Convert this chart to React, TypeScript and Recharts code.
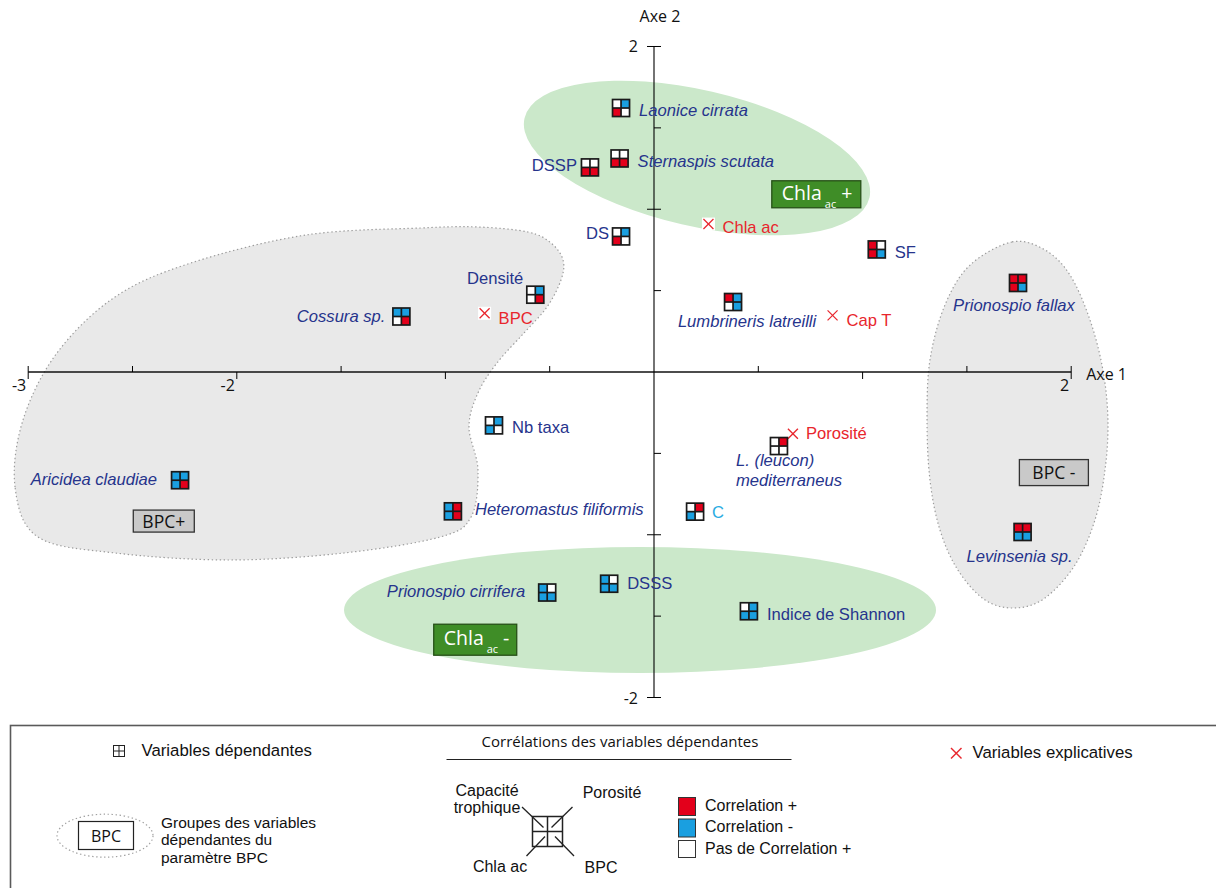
import React from 'react';
import { ScatterChart, Scatter, XAxis, YAxis } from 'recharts';

// ---------- DATA ----------
const depNames = [
  'Laonice cirrata', 'Sternaspis scutata', 'DSSP', 'DS', 'Densité', 'Cossura sp.', 'SF',
  'Prionospio fallax', 'Lumbrineris latreilli', 'Nb taxa', 'L. (leucon) mediterraneus', 'C',
  'Aricidea claudiae', 'Heteromastus filiformis', 'Prionospio cirrifera', 'DSSS',
  'Indice de Shannon', 'Levinsenia sp.',
];
const depAxe1 = [-0.158, -0.165, -0.307, -0.158, -0.569, -1.211, 1.068, 1.745, 0.379, -0.767, 0.599, 0.197, -2.272, -0.964, -0.512, -0.215, 0.455, 1.767];
const depAxe2 = [1.622, 1.312, 1.257, 0.833, 0.475, 0.341, 0.753, 0.547, 0.43, -0.328, -0.455, -0.858, -0.665, -0.856, -1.355, -1.301, -1.47, -0.983];
// correlation with each explanatory variable: '+', '-', '0'
const corrCapT = ['0', '0', '0', '0', '0', '-', '+', '+', '+', '0', '0', '0', '-', '-', '-', '-', '0', '+'];
const corrPoro = ['-', '0', '0', '-', '-', '-', '0', '+', '-', '-', '+', '+', '-', '+', '0', '0', '-', '+'];
const corrChla = ['+', '+', '+', '+', '0', '0', '+', '+', '0', '-', '0', '-', '-', '-', '-', '-', '-', '-'];
const corrBPC = ['0', '+', '+', '0', '+', '+', '-', '-', '-', '0', '0', '0', '+', '+', '-', '-', '-', '-'];
const depIsTaxon = [true, true, false, false, false, true, false, true, true, false, true, false, true, true, true, false, false, true];

const expNames = ['Chla ac', 'BPC', 'Cap T', 'Porosité'];
const expAxe1 = [0.261, -0.812, 0.856, 0.666];
const expAxe2 = [0.909, 0.361, 0.348, -0.379];

const xTickValues = [-3, -2.5, -2, -1.5, -1, -0.5, 0.5, 1, 1.5, 2];
const yTickValues = [2, 1.5, 1, 0.5, -0.5, -1, -1.5, -2];
const xTickLabels: Record<string, string> = { '-3': '-3', '-2': '-2', '2': '2' };
const yTickLabels: Record<string, string> = { '2': '2', '-2': '-2' };

const groupNames = ['Chla+', 'Chla-', 'BPC+', 'BPC-'];
const groupAxe1 = [0.778, -0.857, -2.35, 1.917];
const groupAxe2 = [1.092, -1.645, -0.916, -0.618];

const ellipseNames = ['Chla+', 'Chla-'];
const ellipseAxe1 = [0.206, -0.067];
const ellipseAxe2 = [1.315, -1.462];

const bpcPlusOutline: [number, number][] = [
  [-3.063, -0.707], [-3.025, -0.295], [-2.862, 0.117], [-2.584, 0.461], [-2.22, 0.67], [-1.668, 0.842],
  [-1.117, 0.885], [-0.844, 0.891], [-0.604, 0.86], [-0.494, 0.793], [-0.436, 0.688], [-0.446, 0.565],
  [-0.513, 0.399], [-0.623, 0.24], [-0.753, 0.055], [-0.844, -0.129], [-0.887, -0.338], [-0.844, -0.602],
  [-0.877, -0.891], [-1.026, -1.014], [-1.486, -1.112], [-2.033, -1.155], [-2.584, -1.112], [-2.953, -1.014],
];
const bpcMinusOutline: [number, number][] = [
  [1.716, 0.799], [1.874, 0.75], [1.994, 0.596], [2.09, 0.32], [2.152, 0.012], [2.176, -0.295],
  [2.162, -0.602], [2.114, -0.909], [2.018, -1.186], [1.874, -1.389], [1.731, -1.45], [1.587, -1.401],
  [1.457, -1.217], [1.371, -0.971], [1.323, -0.664], [1.309, -0.295], [1.323, 0.074], [1.395, 0.412],
  [1.515, 0.657],
];

// ---------- derived tables ----------
const depData = depNames.map((name, i) => ({
  name, x: depAxe1[i], y: depAxe2[i], capT: corrCapT[i], poro: corrPoro[i], chla: corrChla[i], bpc: corrBPC[i], taxon: depIsTaxon[i],
}));
const expData = expNames.map((name, i) => ({ name, x: expAxe1[i], y: expAxe2[i] }));
const xTickData = xTickValues.map((v) => ({ x: v, y: 0, label: xTickLabels[String(v)] || '', major: Number.isInteger(v) }));
const yTickData = yTickValues.map((v) => ({ x: 0, y: v, label: yTickLabels[String(v)] || '', major: Number.isInteger(v) }));
const groupData = groupNames.map((name, i) => ({ name, x: groupAxe1[i], y: groupAxe2[i] }));
const ellipseData = ellipseNames.map((name, i) => ({ name, x: ellipseAxe1[i], y: ellipseAxe2[i] }));
const toPts = (arr: [number, number][]) => arr.map(([x, y]) => ({ x, y }));
const hAxisData = [{ x: -3, y: 0 }, { x: 2, y: 0 }];
const vAxisData = [{ x: 0, y: 2 }, { x: 0, y: -2 }];
const axisTitleData = [{ x: 0, y: 2, label: 'Axe 2' }, { x: 2, y: 0, label: 'Axe 1' }];

// ---------- styles ----------
const RED = '#e3001b';
const BLUE = '#1a9fe0';
const NAVY = '#26348c';
const XRED = '#e8262d';
const CORR_COLORS: Record<string, string> = { '+': RED, '-': BLUE, '0': '#ffffff' };
const SANS = 'Liberation Sans, Arial, sans-serif';
const MYRIAD = 'Open Sans, Noto Sans, sans-serif';
const LABEL_SIZE = 16.6;

const depLabelLayout: Record<string, { dx: number; dy: number; anchor: string; lines?: string[] }> = {
  'Laonice cirrata': { dx: 18, dy: 8, anchor: 'start' },
  'Sternaspis scutata': { dx: 18, dy: 9, anchor: 'start' },
  DSSP: { dx: -13, dy: 4, anchor: 'end' },
  DS: { dx: -12, dy: 3, anchor: 'end' },
  'Densité': { dx: -12, dy: -11, anchor: 'end' },
  'Cossura sp.': { dx: -16, dy: 5, anchor: 'end' },
  SF: { dx: 18, dy: 9, anchor: 'start' },
  'Prionospio fallax': { dx: -4, dy: 28, anchor: 'middle' },
  'Lumbrineris latreilli': { dx: 14, dy: 25, anchor: 'middle' },
  'Nb taxa': { dx: 18, dy: 8, anchor: 'start' },
  'L. (leucon) mediterraneus': { dx: -43, dy: 20, anchor: 'start', lines: ['L. (leucon)', 'mediterraneus'] },
  C: { dx: 17, dy: 6, anchor: 'start' },
  'Aricidea claudiae': { dx: -23, dy: 5, anchor: 'end' },
  'Heteromastus filiformis': { dx: 22, dy: 4, anchor: 'start' },
  'Prionospio cirrifera': { dx: -22, dy: 4, anchor: 'end' },
  DSSS: { dx: 18, dy: 5, anchor: 'start' },
  'Indice de Shannon': { dx: 18, dy: 9, anchor: 'start' },
  'Levinsenia sp.': { dx: -3, dy: 30, anchor: 'middle' },
};
const labelColorOverride: Record<string, string> = { C: '#29abe2' };
const expLabelLayout: Record<string, { dx: number; dy: number }> = {
  'Chla ac': { dx: 14, dy: 9 },
  BPC: { dx: 14, dy: 11 },
  'Cap T': { dx: 14, dy: 11 },
  'Porosité': { dx: 13, dy: 5 },
};
const ellipseStyle: Record<string, { rx: number; ry: number; rot: number }> = {
  'Chla+': { rx: 177, ry: 68, rot: 13 },
  'Chla-': { rx: 296, ry: 63, rot: 0 },
};
const groupStyle: Record<string, { w: number; h: number; fill: string; kind: string; sign: string }> = {
  'Chla+': { w: 89, h: 27, fill: '#3f8d27', kind: 'chla', sign: '+' },
  'Chla-': { w: 83, h: 31, fill: '#3f8d27', kind: 'chla', sign: '-' },
  'BPC+': { w: 61, h: 22, fill: '#c9c9c9', kind: 'bpc', sign: '+' },
  'BPC-': { w: 69, h: 26, fill: '#c9c9c9', kind: 'bpc', sign: ' -' },
};

function closedSmoothPath(pts: { x: number; y: number }[]) {
  const n = pts.length;
  if (!n) return '';
  let d = `M${pts[0].x},${pts[0].y}`;
  for (let i = 0; i < n; i++) {
    const p0 = pts[(i - 1 + n) % n], p1 = pts[i], p2 = pts[(i + 1) % n], p3 = pts[(i + 2) % n];
    const c1x = p1.x + (p2.x - p0.x) / 6, c1y = p1.y + (p2.y - p0.y) / 6;
    const c2x = p2.x - (p3.x - p1.x) / 6, c2y = p2.y - (p3.y - p1.y) / 6;
    d += ` C${c1x},${c1y} ${c2x},${c2y} ${p2.x},${p2.y}`;
  }
  return d + ' Z';
}

const Empty = () => <g />;

const blobLine = (props: any) => (
  <path d={closedSmoothPath(props.points || [])} fill="#e9e9e9" stroke="#9c9c9c" strokeWidth={1.2} strokeDasharray="1.4 2.6" />
);

const EllipseShape = (props: any) => {
  const { cx, cy, payload } = props;
  const st = ellipseStyle[payload.name];
  return <ellipse cx={cx} cy={cy} rx={st.rx} ry={st.ry} transform={`rotate(${st.rot} ${cx} ${cy})`} fill="#cbe8ca" />;
};

const GroupBox = (props: any) => {
  const { cx, cy, payload } = props;
  const st = groupStyle[payload.name];
  const x0 = cx - st.w / 2, y0 = cy - st.h / 2;
  if (st.kind === 'chla') {
    return (
      <g>
        <rect x={x0} y={y0} width={st.w} height={st.h} fill={st.fill} stroke="#264f17" strokeWidth={1.3} />
        <text x={x0 + 10} y={cy + 5.5} fill="#fff" fontFamily={MYRIAD} fontSize={19.5}>
          Chla<tspan fontSize={11} dx={3} dy={8}>ac</tspan><tspan dx={5} dy={-8}>{st.sign}</tspan>
        </text>
      </g>
    );
  }
  return (
    <g>
      <rect x={x0} y={y0} width={st.w} height={st.h} fill={st.fill} stroke="#333" strokeWidth={1.3} />
      <text x={cx} y={cy + 6.5} textAnchor="middle" fill="#111" fontFamily={MYRIAD} fontSize={17.5}>{'BPC' + st.sign}</text>
    </g>
  );
};

const XTick = (props: any) => {
  const { cx, cy, payload } = props;
  const end = payload.x === -3 || payload.x === 2;
  const y1 = payload.major || end ? cy + 7 : cy;
  const y0 = payload.major && !end ? cy : cy - 6;
  return (
    <g>
      <line x1={cx} x2={cx} y1={y0} y2={y1} stroke="#000" strokeWidth={1} />
      {payload.label ? (
        <text x={cx - 2} y={cy + 19} textAnchor="end" fontFamily={MYRIAD} fontSize={16} fill="#111">{payload.label}</text>
      ) : null}
    </g>
  );
};

const YTick = (props: any) => {
  const { cx, cy, payload } = props;
  const x0 = payload.major ? cx - 7 : cx;
  return (
    <g>
      <line x1={x0} x2={cx + 7} y1={cy} y2={cy} stroke="#000" strokeWidth={1} />
      {payload.label ? (
        <text x={cx - 16} y={cy + 6} textAnchor="end" fontFamily={MYRIAD} fontSize={16} fill="#111">{payload.label}</text>
      ) : null}
    </g>
  );
};

const AxisTitle = (props: any) => {
  const { cx, cy, payload } = props;
  if (payload.label === 'Axe 2') {
    return <text x={cx + 6} y={cy - 24} textAnchor="middle" fontFamily={MYRIAD} fontSize={16} fill="#111">{payload.label}</text>;
  }
  return <text x={cx + 15} y={cy + 8} textAnchor="start" fontFamily={MYRIAD} fontSize={16} fill="#111">{payload.label}</text>;
};

const DepMarker = (props: any) => {
  const { cx, cy, payload } = props;
  const h = 8.5;
  const cols = [payload.capT, payload.poro, payload.chla, payload.bpc].map((c: string) => CORR_COLORS[c]);
  const lay = depLabelLayout[payload.name];
  const color = labelColorOverride[payload.name] || NAVY;
  const lines = lay.lines || [payload.name];
  return (
    <g>
      <rect x={cx - h} y={cy - h} width={h} height={h} fill={cols[0]} />
      <rect x={cx} y={cy - h} width={h} height={h} fill={cols[1]} />
      <rect x={cx - h} y={cy} width={h} height={h} fill={cols[2]} />
      <rect x={cx} y={cy} width={h} height={h} fill={cols[3]} />
      <rect x={cx - h} y={cy - h} width={2 * h} height={2 * h} fill="none" stroke="#1a1a1a" strokeWidth={1.7} />
      <line x1={cx - h} x2={cx + h} y1={cy} y2={cy} stroke="#1a1a1a" strokeWidth={1.7} />
      <line x1={cx} x2={cx} y1={cy - h} y2={cy + h} stroke="#1a1a1a" strokeWidth={1.7} />
      <text x={cx + lay.dx} y={cy + lay.dy} textAnchor={lay.anchor as any} fill={color} fontFamily={SANS} fontSize={LABEL_SIZE}
        fontStyle={payload.taxon ? 'italic' : 'normal'}>
        {lines.map((t: string, i: number) => (
          <tspan key={i} x={cx + lay.dx} dy={i === 0 ? 0 : 20}>{t}</tspan>
        ))}
      </text>
    </g>
  );
};

const ExpMarker = (props: any) => {
  const { cx, cy, payload } = props;
  const lay = expLabelLayout[payload.name];
  const r = 5;
  return (
    <g>
      <rect x={cx - 6.5} y={cy - 6.5} width={13} height={13} fill="#fff" />
      <line x1={cx - r} y1={cy - r} x2={cx + r} y2={cy + r} stroke={XRED} strokeWidth={1.3} />
      <line x1={cx + r} y1={cy - r} x2={cx - r} y2={cy + r} stroke={XRED} strokeWidth={1.3} />
      <text x={cx + lay.dx} y={cy + lay.dy} fill={XRED} fontFamily={SANS} fontSize={LABEL_SIZE}>{payload.name}</text>
    </g>
  );
};

const Legend = () => (
  <svg width={1216} height={888} style={{ position: 'absolute', left: 0, top: 0, pointerEvents: 'none' }}>
    <rect x={10.5} y={725.5} width={1300} height={300} fill="#fff" stroke="#5a5a5a" strokeWidth={1.6} />
    {/* dependent variables */}
    <rect x={113.5} y={745.5} width={11} height={11} fill="#fff" stroke="#222" strokeWidth={1} />
    <line x1={113.5} x2={124.5} y1={751} y2={751} stroke="#222" strokeWidth={1} />
    <line x1={119} x2={119} y1={745.5} y2={756.5} stroke="#222" strokeWidth={1} />
    <text x={141.5} y={756} fontFamily={SANS} fontSize={16.8} fill="#111">Variables dépendantes</text>
    {/* groups */}
    <ellipse cx={105} cy={835.7} rx={48} ry={21.5} fill="none" stroke="#a0a0a0" strokeWidth={1.2} strokeDasharray="1.4 2.6" />
    <rect x={78.5} y={821.5} width={55} height={28} fill="#fff" stroke="#222" strokeWidth={1.2} />
    <text x={106} y={842} textAnchor="middle" fontFamily={MYRIAD} fontSize={16} fill="#111">BPC</text>
    <text x={161} fontFamily={SANS} fontSize={15.5} fill="#111">
      <tspan x={161} y={827.5}>Groupes des variables</tspan>
      <tspan x={161} y={845}>dépendantes du</tspan>
      <tspan x={161} y={863}>paramètre BPC</tspan>
    </text>
    {/* correlations */}
    <text x={620} y={747} textAnchor="middle" fontFamily={MYRIAD} fontSize={15} fill="#111">Corrélations des variables dépendantes</text>
    <line x1={446.5} x2={791.5} y1={759.5} y2={759.5} stroke="#222" strokeWidth={1.2} />
    <text x={487} textAnchor="middle" fontFamily={SANS} fontSize={16} fill="#111">
      <tspan x={487} y={796}>Capacité</tspan>
      <tspan x={487} y={813}>trophique</tspan>
    </text>
    <text x={612} y={798} textAnchor="middle" fontFamily={SANS} fontSize={16} fill="#111">Porosité</text>
    <text x={500} y={872} textAnchor="middle" fontFamily={SANS} fontSize={16} fill="#111">Chla ac</text>
    <text x={601} y={873} textAnchor="middle" fontFamily={SANS} fontSize={16} fill="#111">BPC</text>
    <rect x={532.5} y={816.5} width={30} height={30} fill="#fff" stroke="#222" strokeWidth={1.5} />
    <line x1={532.5} x2={562.5} y1={831.5} y2={831.5} stroke="#222" strokeWidth={1.5} />
    <line x1={547.5} x2={547.5} y1={816.5} y2={846.5} stroke="#222" strokeWidth={1.5} />
    <line x1={522} y1={807} x2={543.5} y2={827.5} stroke="#222" strokeWidth={1.3} />
    <line x1={572.5} y1={807} x2={551.5} y2={827.5} stroke="#222" strokeWidth={1.3} />
    <line x1={526.5} y1={856} x2={545} y2={836.5} stroke="#222" strokeWidth={1.3} />
    <line x1={574} y1={856} x2={555} y2={836.5} stroke="#222" strokeWidth={1.3} />
    <rect x={678.5} y={797.5} width={17} height={18} fill={RED} stroke="#333" strokeWidth={1} />
    <rect x={678.5} y={819} width={17} height={18} fill={BLUE} stroke="#333" strokeWidth={1} />
    <rect x={678.5} y={840.5} width={17} height={17} fill="#fff" stroke="#333" strokeWidth={1} />
    <text x={705} y={811} fontFamily={SANS} fontSize={16} fill="#111">Correlation +</text>
    <text x={705} y={832} fontFamily={SANS} fontSize={16} fill="#111">Correlation -</text>
    <text x={705} y={854} fontFamily={SANS} fontSize={16} fill="#111">Pas de Correlation +</text>
    {/* explanatory */}
    <line x1={951} y1={748} x2={961.5} y2={758.5} stroke={XRED} strokeWidth={1.4} />
    <line x1={961.5} y1={748} x2={951} y2={758.5} stroke={XRED} strokeWidth={1.4} />
    <text x={972.5} y={757.5} fontFamily={SANS} fontSize={16.8} fill="#111">Variables explicatives</text>
  </svg>
);

export default function App() {
  return (
    <div style={{ position: 'absolute', left: 0, top: 0, width: 1216, height: 888, background: '#fff', overflow: 'hidden' }}>
      <ScatterChart width={1216} height={888} margin={{ top: 30.22, right: 92.65, bottom: 174.22, left: 7.34 }}>
        <XAxis type="number" dataKey="x" domain={[-3.1, 2.25]} hide />
        <YAxis type="number" dataKey="y" domain={[-2.1, 2.1]} hide />
        <Scatter data={toPts(bpcPlusOutline)} line={blobLine} shape={Empty} isAnimationActive={false} />
        <Scatter data={toPts(bpcMinusOutline)} line={blobLine} shape={Empty} isAnimationActive={false} />
        <Scatter data={ellipseData} shape={EllipseShape} isAnimationActive={false} />
        <Scatter data={hAxisData} line={{ stroke: '#111', strokeWidth: 1.3 }} shape={Empty} isAnimationActive={false} />
        <Scatter data={vAxisData} line={{ stroke: '#000', strokeWidth: 1.1 }} shape={Empty} isAnimationActive={false} />
        <Scatter data={xTickData} shape={XTick} isAnimationActive={false} />
        <Scatter data={yTickData} shape={YTick} isAnimationActive={false} />
        <Scatter data={axisTitleData} shape={AxisTitle} isAnimationActive={false} />
        <Scatter data={groupData} shape={GroupBox} isAnimationActive={false} />
        <Scatter data={expData} shape={ExpMarker} isAnimationActive={false} />
        <Scatter data={depData} shape={DepMarker} isAnimationActive={false} />
      </ScatterChart>
      <Legend />
    </div>
  );
}
